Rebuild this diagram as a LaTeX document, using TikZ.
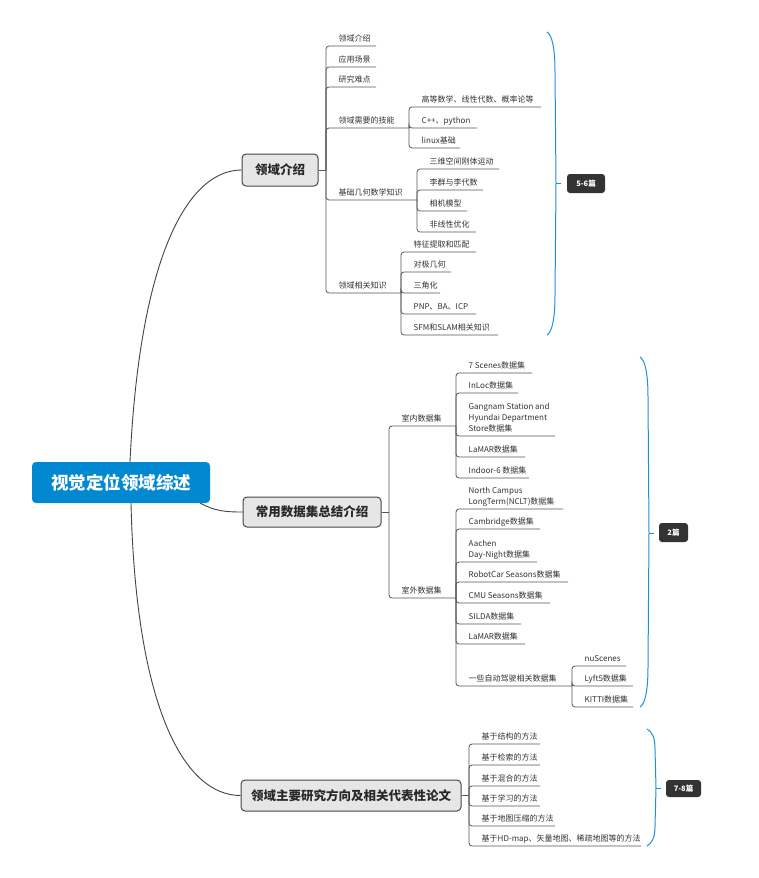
\documentclass[tikz,border=0pt]{standalone}
\usepackage{fontspec}
\setmainfont{Noto Sans CJK SC}
\definecolor{rootblue}{RGB}{2,136,209}
\definecolor{bracecol}{RGB}{30,144,224}
\definecolor{linecol}{RGB}{85,85,85}
\definecolor{txtcol}{RGB}{51,51,51}
\definecolor{topicfill}{RGB}{230,230,230}
\definecolor{topicdraw}{RGB}{70,70,70}
\definecolor{tagfill}{RGB}{51,51,51}
\newcommand\mmleaf[6]{%
  \coordinate (#1e) at (#5,#4);
  \node[lf] (#1) at (#3+12.5,#4-5) {#6};
  \draw[ln] (#2) |- (#1e);
}
\newcommand\mmbrace[7]{%
  \coordinate (#1a) at (#2,#3);
  \coordinate (#1t) at (#4+1,#5);
  \coordinate (#1b) at (#2,#6);
  \draw[br] (#1a) .. controls (#2+5,#3+3) and (#4,#3+#7*0.4) .. (#4,#3+#7) -- (#1t) -- (#4,#6-#7) .. controls (#4,#6-#7*0.4) and (#2+5,#6-3) .. (#1b);
  \draw[br] (#1t) -- ++(5,0);
}
\begin{document}
\begin{tikzpicture}[x=1pt,y=-1pt,
  lf/.style={anchor=base west,inner sep=0pt,text=txtcol,font=\fontsize{8}{11}\selectfont},
  ln/.style={draw=linecol,line width=0.8pt,rounded corners=3pt},
  topic/.style={draw=topicdraw,fill=topicfill,line width=1pt,rounded corners=4pt,inner sep=0pt,text=txtcol!80!black,font=\fontsize{12.5}{15}\selectfont\bfseries},
  rootnode/.style={fill=rootblue,rounded corners=4pt,inner sep=0pt,text=white,font=\fontsize{17.5}{20}\selectfont\bfseries,minimum width=178pt,minimum height=41pt},
  br/.style={draw=bracecol,line width=1pt},
  tag/.style={fill=tagfill,rounded corners=3pt,inner sep=0pt,text=white,font=\fontsize{7.5}{9}\selectfont\bfseries},
  conn/.style={draw=linecol!80!black,line width=0.9pt}
]
\useasboundingbox (0,0) rectangle (759,878);
\fill[white] (0,0) rectangle (759,878);

% root and main topics
\node[rootnode] (root) at (121,482.5) {视觉定位领域综述};
\node[topic,minimum width=76pt,minimum height=32pt] (n1) at (280,170) {领域介绍};
\node[topic,minimum width=138pt,minimum height=30pt] (n2) at (312,512) {常用数据集总结介绍};
\node[topic,minimum width=220pt,minimum height=31pt] (n3) at (351,795.5) {领域主要研究方向及相关代表性论文};

\draw[conn] ([xshift=9pt]root.north) .. controls (140,250) and (190,170) .. (n1.west);
\draw[conn] ([xshift=-10pt]root.south east) .. controls (215,511) and (225,512) .. (n2.west);
\draw[conn] ([xshift=10pt]root.south) .. controls (136,710) and (185,795.5) .. (n3.west);

% section 1
\coordinate (j1) at (326,170);
\draw[ln] (n1.east) -- (j1);
\mmleaf{a1}{j1}{326}{46}{376}{领域介绍}
\mmleaf{a2}{j1}{326}{67}{376}{应用场景}
\mmleaf{a3}{j1}{326}{87}{376}{研究难点}
\mmleaf{a4}{j1}{326}{128}{409}{领域需要的技能}
\mmleaf{a5}{j1}{326}{200}{417}{基础几何数学知识}
\mmleaf{a6}{j1}{326}{293}{401}{领域相关知识}

\mmleaf{b1}{a4e}{409}{107}{541}{高等数学、线性代数、概率论等}
\mmleaf{b2}{a4e}{409}{128}{477}{C++、python}
\mmleaf{b3}{a4e}{409}{148}{460}{linux基础}

\mmleaf{c1}{a5e}{417}{169}{499}{三维空间刚体运动}
\mmleaf{c2}{a5e}{417}{190}{483}{李群与李代数}
\mmleaf{c3}{a5e}{417}{211}{467}{相机模型}
\mmleaf{c4}{a5e}{417}{232}{476}{非线性优化}

\mmleaf{d1}{a6e}{401}{252}{476}{特征提取和匹配}
\mmleaf{d2}{a6e}{401}{272}{451}{对极几何}
\mmleaf{d3}{a6e}{401}{293}{440}{三角化}
\mmleaf{d4}{a6e}{401}{314}{476}{PNP、BA、ICP}
\mmleaf{d5}{a6e}{401}{335}{498}{SFM和SLAM相关知识}

% section 2
\coordinate (j2) at (389,512);
\draw[ln] (n2.east) -- (j2);
\mmleaf{e1}{j2}{389}{426}{456}{室内数据集}
\mmleaf{e2}{j2}{389}{598}{456}{室外数据集}

\mmleaf{f1}{e1e}{456}{373}{532}{7 Scenes数据集}
\mmleaf{f2}{e1e}{456}{393}{518}{InLoc数据集}
\mmleaf{f3}{e1e}{456}{436}{555}{\begin{tabular}[b]{@{}l@{}}Gangnam Station and\\Hyundai Department\\Store数据集\end{tabular}}
\mmleaf{f4}{e1e}{456}{457}{525}{LaMAR数据集}
\mmleaf{f5}{e1e}{456}{478}{529}{Indoor-6 数据集}

\mmleaf{g1}{e2e}{456}{509}{563}{\begin{tabular}[b]{@{}l@{}}North Campus\\LongTerm(NCLT)数据集\end{tabular}}
\mmleaf{g2}{e2e}{456}{529}{540}{Cambridge数据集}
\mmleaf{g3}{e2e}{456}{562}{537}{\begin{tabular}[b]{@{}l@{}}Aachen\\Day-Night数据集\end{tabular}}
\mmleaf{g4}{e2e}{456}{582}{568}{RobotCar Seasons数据集}
\mmleaf{g5}{e2e}{456}{603}{550}{CMU Seasons数据集}
\mmleaf{g6}{e2e}{456}{624}{521}{SILDA数据集}
\mmleaf{g7}{e2e}{456}{644}{525}{LaMAR数据集}
\mmleaf{g8}{e2e}{456}{686}{572}{一些自动驾驶相关数据集}

\mmleaf{h1}{g8e}{572}{666}{626}{nuScenes}
\mmleaf{h2}{g8e}{572}{686}{633}{Lyft5数据集}
\mmleaf{h3}{g8e}{572}{707}{633}{KITTI数据集}

% section 3
\coordinate (j3) at (469,795.5);
\draw[ln] (n3.east) -- (j3);
\mmleaf{k1}{j3}{469}{744}{540}{基于结构的方法}
\mmleaf{k2}{j3}{469}{765}{540}{基于检索的方法}
\mmleaf{k3}{j3}{469}{786}{540}{基于混合的方法}
\mmleaf{k4}{j3}{469}{806}{540}{基于学习的方法}
\mmleaf{k5}{j3}{469}{826}{555}{基于地图压缩的方法}
\mmleaf{k6}{j3}{469}{846}{641}{基于HD-map、矢量地图、稀疏地图等的方法}

% braces and tags
\mmbrace{s1}{547}{32}{555}{183}{335}{40}
\mmbrace{s2}{640}{357}{648}{533}{707}{40}
\mmbrace{s3}{647}{729}{655}{788}{846}{20}

\node[tag,minimum width=38pt,minimum height=19pt] (t1) at (586,183.5) {5-6篇};
\node[tag,minimum width=29pt,minimum height=19pt] (t2) at (673.5,532.5) {2篇};
\node[tag,minimum width=35pt,minimum height=17pt] (t3) at (683.5,788.5) {7-8篇};
\end{tikzpicture}
\end{document}
